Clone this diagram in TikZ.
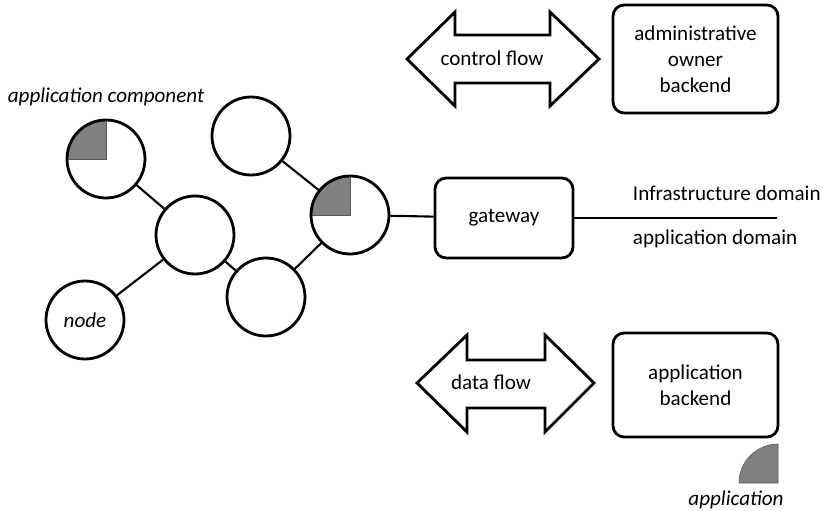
\documentclass[tikz,border=0pt]{standalone}
\usepackage{fontspec}
\setmainfont{Carlito}
\tikzset{
  dev/.style={circle,draw,line width=2pt,minimum size=1.95cm,inner sep=0pt},
  appcomp/.style={dev,path picture={\fill[gray,draw=gray!70!black,thin] (path picture bounding box.center) rectangle (path picture bounding box.north west);}},
  link/.style={line width=1.5pt},
  box/.style={draw,rounded corners=0.28cm,line width=2pt,align=center},
  flow/.style={draw,line width=2pt,line join=miter},
  lbl/.style={font=\fontsize{15}{18.5}\selectfont\itshape}
}
\begin{document}
\begin{tikzpicture}[font=\fontsize{15}{18.5}\selectfont]
       \useasboundingbox (0,0) rectangle (20.575,12.75);

       \node[appcomp] (comp1) at (2.65,8.775) {};
       \node[dev] (top) at (6.275,9.35) {};
       \node[dev] (hub) at (4.875,6.875) {};
       \node[appcomp] (comp2) at (8.75,7.375) {};
       \node[dev] (low) at (6.65,5.325) {};
       \node[dev,lbl] (node) at (2.125,4.75) {node};
       \node[lbl] (complbl) at (2.65,10.325) {application component};

       \draw[link] (comp1) -- (hub);
       \draw[link] (hub) -- (node);
       \draw[link] (hub) -- (low);
       \draw[link] (low) -- (comp2);
       \draw[link] (top) -- (comp2);

       \node[box,minimum width=3.45cm,minimum height=2cm] (gw) at (12.6,7.3) {gateway};
       \coordinate (domend) at (19.425,7.3);
       \draw[link] (comp2) -- (gw);
       \draw[link] (gw) -- (domend);
       \node[anchor=west] (infra) at (15.7,7.925) {Infrastructure domain};
       \node[anchor=west] (appdom) at (15.7,6.775) {application domain};

       % control flow
       \draw[flow] (10.175,11.275) -- (11.375,12.45) -- (11.375,11.875) -- (13.75,11.875) -- (13.75,12.45) -- (14.975,11.275)
              -- (13.75,10.1) -- (13.75,10.675) -- (11.375,10.675) -- (11.375,10.1) -- cycle;
       \node (ctrl) at (12.3,11.3) {control flow};
       \node[box,minimum width=4.125cm,minimum height=2.7cm] (admin) at (17.3875,11.275) {administrative\\owner\\backend};

       % data flow
       \draw[flow] (10.425,3.175) -- (11.675,4.375) -- (11.675,3.75) -- (13.625,3.75) -- (13.625,4.375) -- (14.85,3.175)
              -- (13.625,1.95) -- (13.625,2.55) -- (11.675,2.55) -- (11.675,1.95) -- cycle;
       \node (data) at (12.275,3.2) {data flow};
       \node[box,minimum width=4.125cm,minimum height=2.6cm] (backend) at (17.3875,3.125) {application\\backend};

       \fill[gray,draw=gray!70!black,thin] (19.45,0.675) -- (18.475,0.675) arc[start angle=180,end angle=90,radius=0.975] -- cycle;
       \node[lbl] (applbl) at (18.4,0.25) {application};
\end{tikzpicture}
\end{document}
